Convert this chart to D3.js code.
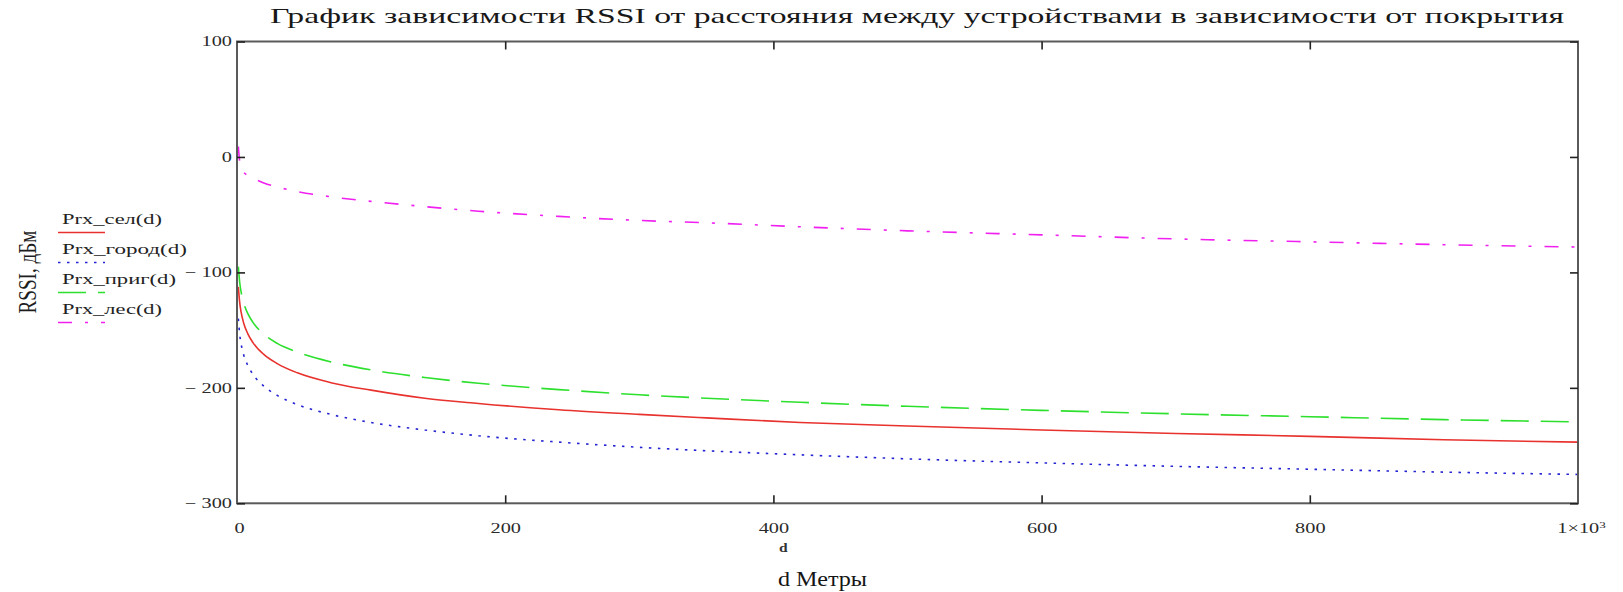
<!DOCTYPE html>
<html>
<head>
<meta charset="utf-8">
<script src="https://cdn.jsdelivr.net/npm/d3@7"></script>
<style>
  html, body { margin: 0; padding: 0; background: #fff; }
  svg { display: block; }
  text { font-family: "Liberation Serif", "Times New Roman", serif; fill: #222; }
</style>
</head>
<body>
<svg id="chart" width="1623" height="592"></svg>
<script>
// ---- data ----
const distances = [1, 2, 3, 5, 8, 12, 20, 30, 45, 70, 100, 140, 180, 240, 300, 350, 420, 500, 600, 700, 800, 900, 1000];
const prxSel   = [-112.5, -126, -134, -144, -153, -161, -171, -179, -187, -195.5, -202, -209, -213.5, -219, -223, -226, -230, -233, -236.5, -239.5, -242, -245, -247];
const prxGorod = [-140, -153.5, -161.5, -171.5, -180.5, -188.5, -198.5, -206.5, -214.5, -223, -230, -236.5, -241.5, -247, -251.5, -254.5, -258, -261.5, -265, -268, -270.5, -273, -275];
const prxPrig  = [-95, -108.5, -116.5, -126.5, -135.5, -143.5, -153.5, -161.5, -169, -177.5, -184.5, -191, -196, -201.5, -206, -209, -212.5, -216, -219.5, -222.5, -225, -227.5, -229.5];
const prxLes   = [9, -4, -8, -13, -16, -18.5, -22.5, -26, -30, -34.5, -38.5, -43, -47, -51.5, -55, -57, -60.5, -64, -67.5, -71, -73.5, -76, -78];

const seriesNames = ["Prx_сел(d)", "Prx_город(d)", "Prx_приг(d)", "Prx_лес(d)"];
const xTicks = [0, 200, 400, 600, 800, 1000];
const yTicks = [100, 0, -100, -200, -300];

const titleText = "График зависимости RSSI от расстояния между устройствами в зависимости от покрытия";
const yLabel = "RSSI, дБм";
const xVarLabel = "d";
const xLabel = "d Метры";

// ---- styles ----
const series = [
  { name: seriesNames[0], values: prxSel,   color: "#e8322e", dash: null,          legendW: 100 },
  { name: seriesNames[1], values: prxGorod, color: "#2424d2", dash: "2.5,6.5",     legendW: 125 },
  { name: seriesNames[2], values: prxPrig,  color: "#2ee02e", dash: "28,12",       legendW: 114 },
  { name: seriesNames[3], values: prxLes,   color: "#f020f0", dash: "14,13,3,13",  legendW: 100 }
];

const L = 237, R = 1578, T = 41.5, B = 503.3;
const SX = 1.45;

const svg = d3.select("#chart");
const x = d3.scaleLinear().domain([0, 1000]).range([L, R]);
const y = d3.scaleLinear().domain([-300, 100]).range([B, T]);

// title
svg.append("text")
  .attr("x", 270).attr("y", 23)
  .attr("font-size", 22)
  .attr("textLength", 1294)
  .attr("lengthAdjust", "spacingAndGlyphs")
  .style("fill", "#181818")
  .text(titleText);

// curves
const line = d3.line().curve(d3.curveMonotoneX).x((d, i) => x(distances[i])).y(d => y(d));
const plot = svg.append("g");
series.forEach(s => {
  plot.append("path")
    .datum(s.values)
    .attr("d", line)
    .attr("fill", "none")
    .attr("stroke", s.color)
    .attr("stroke-width", 1.6)
    .attr("stroke-dasharray", s.dash);
});

// frame
svg.append("rect")
  .attr("x", L).attr("y", T).attr("width", R - L).attr("height", B - T)
  .attr("fill", "none").attr("stroke", "#5a5a5a").attr("stroke-width", 2);

function styleAxis(g) {
  g.select(".domain").remove();
  g.selectAll(".tick line").attr("stroke", "#222").attr("stroke-width", 1.6);
}

const fmtY = v => v < 0 ? "\u2212 " + Math.abs(v) : String(v);

// left axis with labels
const gl = svg.append("g").attr("transform", `translate(${L},0)`)
  .call(d3.axisLeft(y).tickValues(yTicks).tickSizeInner(-8).tickSizeOuter(0).tickPadding(3.5).tickFormat(fmtY));
styleAxis(gl);
gl.selectAll(".tick text")
  .attr("font-size", 14).style("fill", "#2a2a2a")
  .attr("transform", `scale(${SX},1)`);

// right axis (ticks only)
const gr = svg.append("g").attr("transform", `translate(${R},0)`)
  .call(d3.axisRight(y).tickValues(yTicks).tickSizeInner(-8).tickSizeOuter(0).tickFormat(""));
styleAxis(gr);

// bottom axis with labels
const gb = svg.append("g").attr("transform", `translate(0,${B})`)
  .call(d3.axisBottom(x).tickValues(xTicks).tickSizeInner(-8).tickSizeOuter(0).tickPadding(20).tickFormat(""));
styleAxis(gb);
gb.selectAll(".tick").filter(d => d === 0 || d === 1000).select("line").remove();
gb.selectAll(".tick").each(function(d) {
  const t = d3.select(this).select("text")
    .attr("font-size", 14).style("fill", "#2a2a2a")
    .attr("transform", `scale(${SX},1)`)
    .attr("x", d === 0 ? 2 / SX : 0);
  if (d === 1000) {
    t.attr("x", 3 / SX);
    t.append("tspan").text("1×10");
    t.append("tspan").attr("font-size", 9).attr("dy", "-0.55em").text("3");
  } else {
    t.text(d);
  }
});

// top axis (ticks only)
const gt = svg.append("g").attr("transform", `translate(0,${T})`)
  .call(d3.axisTop(x).tickValues(xTicks).tickSizeInner(-8).tickSizeOuter(0).tickFormat(""));
styleAxis(gt);
gt.selectAll(".tick").filter(d => d === 0 || d === 1000).select("line").remove();

// axis labels
svg.append("text")
  .attr("transform", `translate(36,272) rotate(-90) scale(1,1.45)`)
  .attr("text-anchor", "middle")
  .attr("font-size", 18)
  .attr("textLength", 83).attr("lengthAdjust", "spacingAndGlyphs")
  .style("fill", "#1e1e1e")
  .text(yLabel);

svg.append("text")
  .attr("transform", `translate(779,552) scale(1.3,1)`)
  .attr("font-size", 12).attr("font-weight", "bold")
  .style("fill", "#333")
  .text(xVarLabel);

svg.append("text")
  .attr("x", 778).attr("y", 586)
  .attr("font-size", 20)
  .attr("textLength", 89).attr("lengthAdjust", "spacingAndGlyphs")
  .style("fill", "#151515")
  .text(xLabel);

// legend
const legend = svg.append("g");
series.forEach((s, i) => {
  const base = 223.5 + i * 30;
  legend.append("text")
    .attr("x", 62).attr("y", base)
    .attr("font-size", 14.5)
    .attr("textLength", s.legendW).attr("lengthAdjust", "spacingAndGlyphs")
    .style("fill", "#222")
    .text(s.name);
  legend.append("line")
    .attr("x1", 58).attr("x2", 105)
    .attr("y1", base + 9).attr("y2", base + 9)
    .attr("stroke", s.color).attr("stroke-width", 1.6)
    .attr("stroke-dasharray", s.dash);
});
</script>
</body>
</html>
